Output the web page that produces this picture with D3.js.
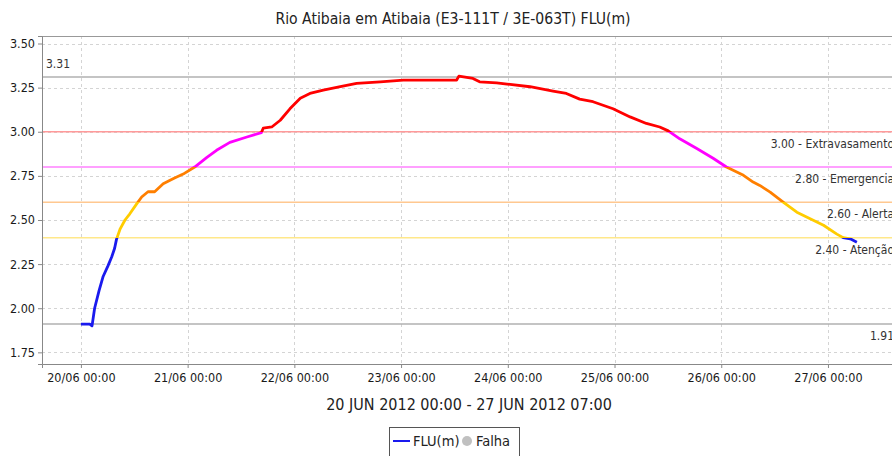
<!DOCTYPE html>
<html>
<head>
<meta charset="utf-8">
<script src="https://cdn.jsdelivr.net/npm/d3@7"></script>
<style>
  body { margin: 0; background: #fff; }
  svg { display: block; font-family: "DejaVu Sans Condensed", "DejaVu Sans", sans-serif; font-stretch: condensed; }
</style>
</head>
<body>
<svg width="892" height="456"></svg>
<script>
// level readings (FLU, metres)
const times = [
  "2012-06-20 00:00", "2012-06-20 02:00", "2012-06-20 02:30", "2012-06-20 03:05", "2012-06-20 04:05",
  "2012-06-20 05:00", "2012-06-20 06:05", "2012-06-20 06:55", "2012-06-20 07:35", "2012-06-20 08:00",
  "2012-06-20 08:50", "2012-06-20 09:55", "2012-06-20 11:00", "2012-06-20 12:30", "2012-06-20 13:40",
  "2012-06-20 15:05", "2012-06-20 16:35", "2012-06-20 18:30", "2012-06-20 20:50", "2012-06-20 23:00",
  "2012-06-21 01:35", "2012-06-21 04:20", "2012-06-21 06:30", "2012-06-21 09:30", "2012-06-21 13:20",
  "2012-06-21 16:35", "2012-06-21 17:00", "2012-06-21 18:55", "2012-06-21 20:50", "2012-06-21 23:00",
  "2012-06-22 01:20", "2012-06-22 03:30", "2012-06-22 06:30", "2012-06-22 10:20", "2012-06-22 14:00",
  "2012-06-22 19:20", "2012-06-23 00:30", "2012-06-23 12:30", "2012-06-23 13:00", "2012-06-23 16:10",
  "2012-06-23 17:40", "2012-06-23 21:30", "2012-06-23 23:50", "2012-06-24 05:00", "2012-06-24 10:10",
  "2012-06-24 13:10", "2012-06-24 16:10", "2012-06-24 19:10", "2012-06-24 23:40", "2012-06-25 03:30",
  "2012-06-25 07:10", "2012-06-25 10:10", "2012-06-25 12:05", "2012-06-25 14:40", "2012-06-25 18:30",
  "2012-06-25 22:10", "2012-06-26 01:10", "2012-06-26 05:00", "2012-06-26 07:10", "2012-06-26 08:40",
  "2012-06-26 11:00", "2012-06-26 14:00", "2012-06-26 17:00", "2012-06-26 20:00", "2012-06-26 23:00",
  "2012-06-27 02:00", "2012-06-27 03:25", "2012-06-27 05:00", "2012-06-27 06:30"
];
const levels = [
  1.91, 1.91, 1.90, 2.00, 2.10,
  2.18, 2.24, 2.29, 2.34, 2.39,
  2.45, 2.50, 2.535, 2.59, 2.63,
  2.66, 2.66, 2.705, 2.735, 2.76,
  2.80, 2.855, 2.895, 2.94, 2.97,
  2.995, 3.02, 3.027, 3.065, 3.13,
  3.19, 3.217, 3.236, 3.255, 3.274,
  3.283, 3.293, 3.293, 3.315, 3.302,
  3.283, 3.277, 3.27, 3.255, 3.23,
  3.217, 3.185, 3.17, 3.13, 3.084,
  3.047, 3.027, 3.005, 2.96, 2.905,
  2.85, 2.80, 2.753, 2.715, 2.696,
  2.658, 2.60, 2.544, 2.507, 2.47,
  2.42, 2.40, 2.393, 2.374
];

// reference levels
const markerValues = [3.31, 3.00, 2.80, 2.60, 2.40, 1.91];
const markerLabels = ["3.31", "3.00 - Extravasamento", "2.80 - Emergencia", "2.60 - Alerta", "2.40 - Atenção", "1.91"];

const yTicks = [1.75, 2.00, 2.25, 2.50, 2.75, 3.00, 3.25, 3.50];
const xTickDays = ["2012-06-20", "2012-06-21", "2012-06-22", "2012-06-23", "2012-06-24", "2012-06-25", "2012-06-26", "2012-06-27"];

const parse = d3.timeParse("%Y-%m-%d %H:%M");
const parseDay = d3.timeParse("%Y-%m-%d");
const data = times.map((t, i) => ({ date: parse(t), value: levels[i] }));

const svg = d3.select("svg");
const plotL = 42, plotR = 898, plotT = 36, plotB = 364;

const start = parse("2012-06-20 00:00"), end = parse("2012-06-27 07:00");
const pad = (end - start) * 0.05;
const x = d3.scaleTime()
  .domain([new Date(+start - pad), new Date(+end + pad)])
  .range([plotL, plotR]);
const y = d3.scaleLinear()
  .domain([1.684, 3.5425])
  .range([plotB, plotT]);

// title
svg.append("text")
  .attr("x", 453).attr("y", 24)
  .attr("text-anchor", "middle")
  .style("font-size", "15.6px").style("fill", "#222")
  .text("Rio Atibaia em Atibaia (E3-111T / 3E-063T) FLU(m)");

// grid
const grid = svg.append("g");
grid.selectAll(".gy").data(yTicks).enter().append("line")
  .attr("x1", plotL).attr("x2", plotR)
  .attr("y1", d => Math.round(y(d)) + 0.5).attr("y2", d => Math.round(y(d)) + 0.5)
  .attr("stroke", "#d4d4d4").attr("stroke-dasharray", "3,3");
grid.selectAll(".gx").data(xTickDays.map(parseDay)).enter().append("line")
  .attr("y1", plotT).attr("y2", plotB)
  .attr("x1", d => Math.round(x(d)) + 0.5).attr("x2", d => Math.round(x(d)) + 0.5)
  .attr("stroke", "#d4d4d4").attr("stroke-dasharray", "3,3");

// plot outline (top)
svg.append("line").attr("x1", plotL).attr("x2", plotR).attr("y1", plotT + 0.5).attr("y2", plotT + 0.5)
  .attr("stroke", "#999");

// reference lines
const markerColors = ["#b0b0b0", "#ff9a9a", "#ff80ff", "#ffc890", "#ffe88a", "#b0b0b0"];
const markers = svg.append("g");
markers.selectAll("line").data(markerValues).enter().append("line")
  .attr("x1", plotL).attr("x2", plotR)
  .attr("y1", d => y(d)).attr("y2", d => y(d))
  .attr("stroke", (d, i) => markerColors[i])
  .attr("stroke-width", 1.5);
markers.selectAll("text").data(markerValues).enter().append("text")
  .attr("x", (d, i) => i === 0 ? 46 : 894)
  .attr("y", (d, i) => i === 0 ? y(d) - 9 : y(d) + 16)
  .attr("text-anchor", (d, i) => i === 0 ? "start" : "end")
  .style("font-size", "12px").style("fill", "#333")
  .text((d, i) => markerLabels[i]);

// colour by level band
const grad = svg.append("defs").append("linearGradient")
  .attr("id", "bands").attr("gradientUnits", "userSpaceOnUse")
  .attr("x1", 0).attr("x2", 0).attr("y1", plotT).attr("y2", plotB);
const off = v => (y(v) - plotT) / (plotB - plotT);
const bands = [
  [0, "#ff0000"], [off(3.00), "#ff0000"], [off(3.00), "#ff00ff"], [off(2.80), "#ff00ff"],
  [off(2.80), "#ff7f00"], [off(2.60), "#ff7f00"], [off(2.60), "#ffcc00"], [off(2.40), "#ffcc00"],
  [off(2.40), "#1a1aee"], [1, "#1a1aee"]
];
grad.selectAll("stop").data(bands).enter().append("stop")
  .attr("offset", d => d[0]).attr("stop-color", d => d[1]);

const line = d3.line().x(d => x(d.date)).y(d => y(d.value));
svg.append("path").datum(data)
  .attr("d", line)
  .attr("fill", "none")
  .attr("stroke", "url(#bands)")
  .attr("stroke-width", 2.8)
  .attr("stroke-linejoin", "round");

// axes
const yAxis = d3.axisLeft(y).tickValues(yTicks).tickFormat(d3.format(".2f")).tickSize(4).tickPadding(3);
const yG = svg.append("g").attr("transform", `translate(${plotL},0)`).call(yAxis);
const xAxis = d3.axisBottom(x).tickValues(xTickDays.map(parseDay)).tickFormat(d3.timeFormat("%d/%m %H:%M")).tickSize(4).tickPadding(5);
const xG = svg.append("g").attr("transform", `translate(0,${plotB})`).call(xAxis);
[yG, xG].forEach(g => {
  g.attr("font-family", null);
  g.select(".domain").attr("stroke", "#888");
  g.selectAll(".tick line").attr("stroke", "#888");
  g.selectAll(".tick text").style("font-size", "12.5px").style("fill", "#1a1a1a");
});

// axis label
svg.append("text")
  .attr("x", 469).attr("y", 410)
  .attr("text-anchor", "middle")
  .style("font-size", "16px").style("fill", "#222")
  .text("20 JUN 2012 00:00 - 27 JUN 2012 07:00");

// legend
const lg = svg.append("g");
lg.append("rect").attr("x", 389.5).attr("y", 427.5).attr("width", 130).attr("height", 36)
  .attr("fill", "#fff").attr("stroke", "#555");
lg.append("line").attr("x1", 393).attr("x2", 410).attr("y1", 441).attr("y2", 441)
  .attr("stroke", "#1a1aee").attr("stroke-width", 2);
lg.append("text").attr("x", 413).attr("y", 446).style("font-size", "14.5px").style("fill", "#222").text("FLU(m)");
lg.append("circle").attr("cx", 467).attr("cy", 441).attr("r", 5).attr("fill", "#c0c0c0");
lg.append("text").attr("x", 476).attr("y", 446).style("font-size", "14.5px").style("fill", "#222").text("Falha");
</script>
</body>
</html>
